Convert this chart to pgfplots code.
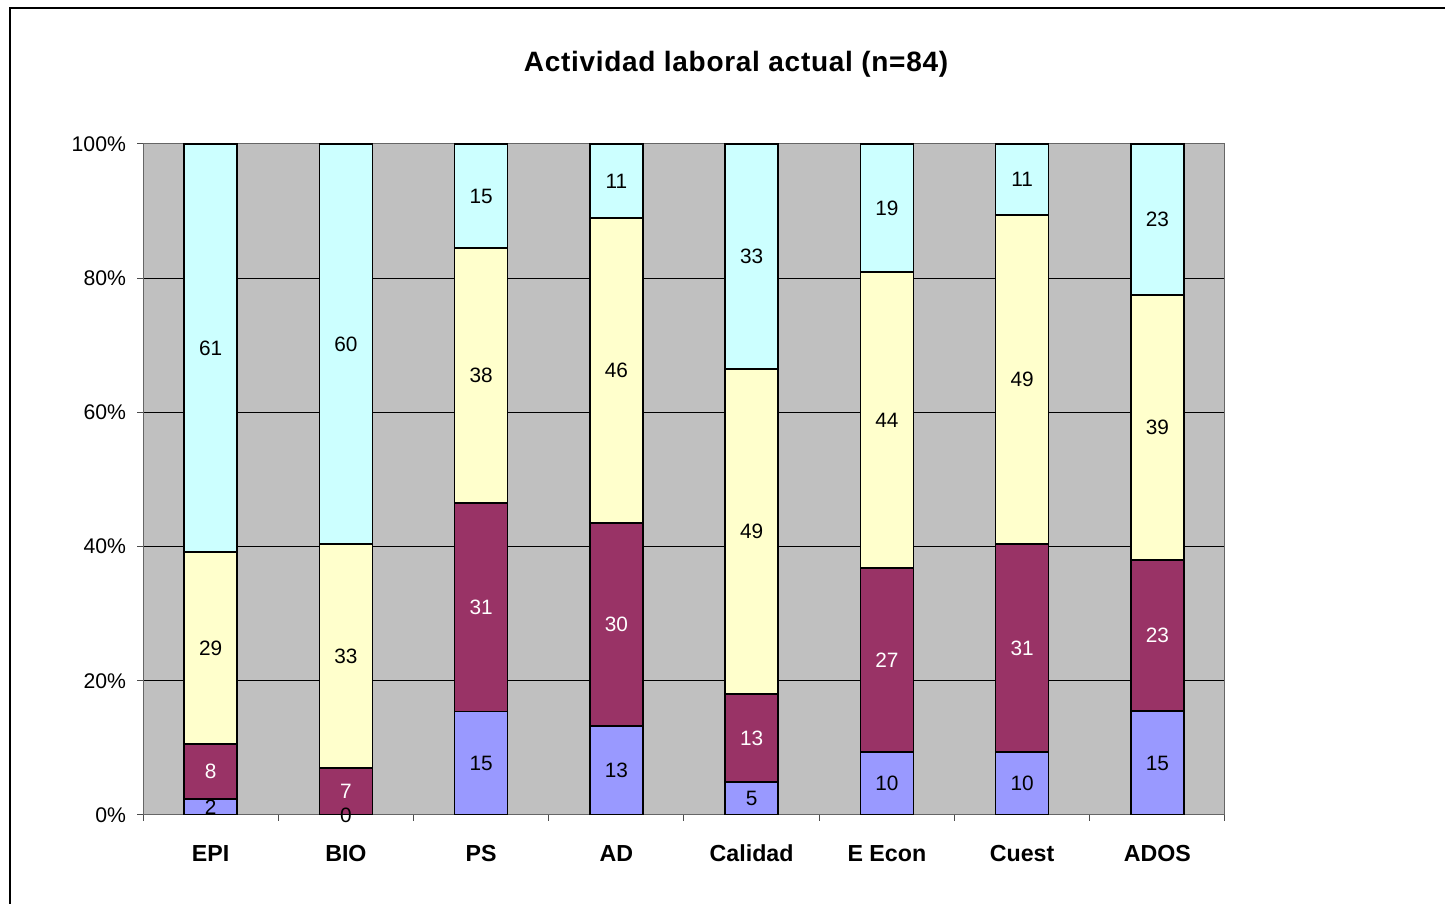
\documentclass[border=0pt]{standalone}
\usepackage{pgfplots}
\pgfplotsset{compat=1.18}
\usepackage{pgfplotstable}
\usepackage{fontspec}
\setmainfont{Liberation Sans}
\definecolor{sBlue}{HTML}{9999FF}
\definecolor{sPurple}{HTML}{993366}
\definecolor{sYellow}{HTML}{FFFFCC}
\definecolor{sCyan}{HTML}{CCFFFF}
\definecolor{plotbg}{HTML}{C0C0C0}
\pgfplotstableread{
x h1 l1 h2 l2 h3 l3 h4 l4
0 2.4 2 8.2 8 28.6 29 60.8 61
1 0.01 0 7.0 7 33.4 33 59.59 60
2 15.4 15 31.1 31 38.0 38 15.5 15
3 13.3 13 30.2 30 45.5 46 11.0 11
4 4.9 5 13.1 13 48.5 49 33.5 33
5 9.4 10 27.4 27 44.1 44 19.1 19
6 9.4 10 31.0 31 49.0 49 10.6 11
7 15.5 15 22.5 23 39.5 39 22.5 23
}\datatab
\begin{document}
\begin{tikzpicture}
\path[use as bounding box] (0,0) rectangle (722.5pt,452pt);
\draw[line width=1pt] (5pt,0) -- (5pt,447.75pt) -- (722.5pt,447.75pt);
\node[font=\bfseries\fontsize{14}{16}\selectfont\addfontfeature{LetterSpace=2.5}] at (368pt,420pt) {Actividad laboral actual (n=84)};
\begin{axis}[
  at={(71.5pt,44.5pt)}, anchor=south west,
  scale only axis, width=541pt, height=335.5pt,
  ybar stacked, bar width=26.5pt,
  xmin=-0.5, xmax=7.5, ymin=0, ymax=100,
  xtick={-0.5,0.5,...,7.5},
  x tick label as interval,
  xticklabels={EPI,BIO,PS,AD,Calidad,E Econ,Cuest,ADOS},
  xticklabel style={font=\bfseries\fontsize{11.6}{13}\selectfont, text height=8.4pt, text depth=0pt, yshift=-8.5pt},
  ytick={0,20,...,100},
  yticklabels={0\%,20\%,40\%,60\%,80\%,100\%},
  yticklabel style={font=\fontsize{10.6}{12}\selectfont, xshift=-2pt},
  tick align=outside, major tick length=3pt,
  tick style={gray!60!black, line width=0.5pt},
  xtick pos=bottom, ytick pos=left,
  axis line style={gray!80!black, line width=0.5pt},
  axis background/.style={fill=plotbg},
  ymajorgrids, major grid style={black, line width=0.5pt},
  nodes near coords, point meta=explicit symbolic,
  every node near coord/.append style={anchor=center, font=\fontsize{10.4}{12}\selectfont},
]
\addplot[fill=sBlue, draw=black, line width=0.8pt, every node near coord/.append style={black}] table[x=x, y=h1, meta=l1] {\datatab};
\addplot[fill=sPurple, draw=black, line width=0.8pt, every node near coord/.append style={white}] table[x=x, y=h2, meta=l2] {\datatab};
\addplot[fill=sYellow, draw=black, line width=0.8pt, every node near coord/.append style={black}] table[x=x, y=h3, meta=l3] {\datatab};
\addplot[fill=sCyan, draw=black, line width=0.8pt, every node near coord/.append style={black}] table[x=x, y=h4, meta=l4] {\datatab};
\end{axis}
\end{tikzpicture}
\end{document}
